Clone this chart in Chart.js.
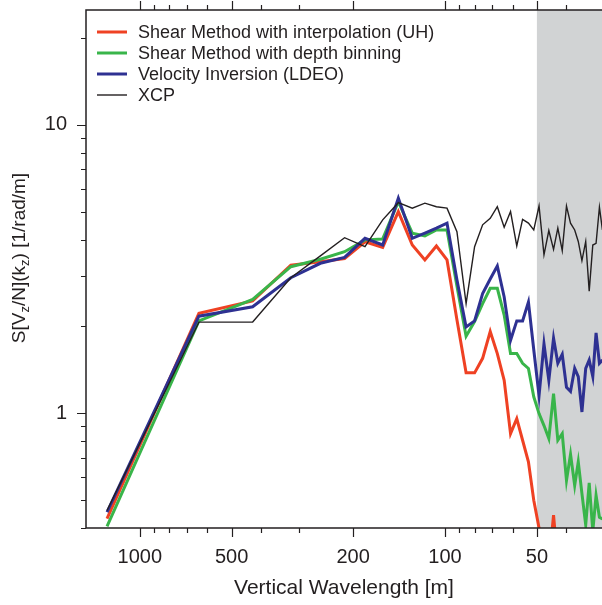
<!DOCTYPE html>
<html>
<head>
<meta charset="utf-8">
<script src="https://cdn.jsdelivr.net/npm/chart.js@4.4.1/dist/chart.umd.min.js"></script>
<style>
  html, body { margin: 0; padding: 0; background: #fff; }
  #chart { display: block; }
</style>
</head>
<body>
<canvas id="chart" width="602" height="605"></canvas>
<script>
// vertical wavelength of each spectral estimate [m]
const wavelengths = [1280, 640, 426.7, 320, 256, 213.3, 182.9, 160, 142.2, 128, 116.4, 106.7, 98.5, 91.4,
  85.3, 80, 75.3, 71.1, 67.4, 64, 61, 58.2, 55.7, 53.3, 51.2, 49.2, 47.4, 45.7, 44.1, 42.7, 41.3, 40,
  38.8, 37.6, 36.6, 35.6, 34.6, 33.7, 32.8, 32, 31.2, 30.5];

const shearInterp = [0.431, 2.22, 2.45, 3.26, 3.35, 3.44, 3.93, 3.76, 5.0, 3.83, 3.40, 3.80, 3.40, 2.11,
  1.38, 1.38, 1.55, 1.92, 1.61, 1.30, 0.85, 0.958, 0.806, 0.678, 0.499, 0.40, 0.33, 0.30, 0.443, 0.30,
  0.28, 0.25, 0.30, 0.27, 0.22, 0.26, 0.24, 0.20, 0.23, 0.21, 0.25, 0.22];

const shearBinned = [0.405, 2.09, 2.48, 3.22, 3.42, 3.63, 3.99, 4.02, 5.41, 4.21, 4.12, 4.32, 4.32, 2.76,
  1.85, 2.08, 2.40, 2.71, 2.71, 2.19, 1.61, 1.61, 1.49, 1.43, 1.14, 0.997, 0.906, 0.817, 1.17, 0.806,
  0.85, 0.585, 0.721, 0.562, 0.678, 0.526, 0.41, 0.573, 0.39, 0.519, 0.436, 0.43];

const velInversion = [0.454, 2.17, 2.34, 2.95, 3.31, 3.47, 4.04, 3.83, 5.57, 4.04, 4.21, 4.38, 4.56, 2.90,
  1.99, 2.09, 2.60, 2.92, 3.24, 2.53, 1.79, 2.09, 2.09, 2.43, 1.66, 1.15, 1.74, 1.30, 1.82, 1.49,
  1.60, 1.23, 1.19, 1.43, 1.34, 1.01, 1.43, 1.53, 1.34, 1.90, 1.49, 1.53];

const xcp = [0.46, 2.07, 2.07, 2.95, 3.51, 4.06, 3.78, 4.68, 5.37, 5.14, 5.35, 5.2, 5.14, 4.26,
  2.40, 3.78, 4.50, 4.74, 5.2, 4.41, 5.0, 3.80, 4.70, 4.56, 4.32, 5.23, 3.54, 4.30, 3.70, 4.38,
  3.66, 5.23, 4.56, 4.32, 3.94, 3.38, 3.94, 2.65, 3.83, 3.88, 5.18, 4.32];

const seriesLabels = ['Shear Method with interpolation (UH)', 'Shear Method with depth binning',
  'Velocity Inversion (LDEO)', 'XCP'];

const xMajorTicks = [1000, 500, 200, 100, 50];
const xMinorTicks = [900, 800, 700, 600, 400, 300, 90, 80, 70, 60, 40, 30];
const yMajorTicks = [1, 10];
const yMinorTicks = [0.4, 0.5, 0.6, 0.7, 0.8, 0.9, 2, 3, 4, 5, 6, 7, 8, 9, 20];
const shadeFrom = 50;

const INK = '#231f20';
const FONT = "'Liberation Sans', Arial, Helvetica, sans-serif";

const pts = ys => wavelengths.map((w, i) => ({ x: w, y: ys[i] }));

// grey band, frame, tick marks, legend, y title
const decor = {
  id: 'decor',
  beforeDatasetsDraw(chart) {
    const { ctx, chartArea: a, scales: { x } } = chart;
    const xs = x.getPixelForValue(shadeFrom);
    ctx.save();
    ctx.fillStyle = '#d1d3d4';
    ctx.fillRect(xs, a.top, a.right - xs, a.bottom - a.top);
    ctx.restore();
  },
  afterDraw(chart) {
    const { ctx, chartArea: a, scales: { x, y } } = chart;
    ctx.save();
    ctx.strokeStyle = INK;
    ctx.lineWidth = 1.5;
    ctx.beginPath();
    ctx.moveTo(a.right, a.top); ctx.lineTo(a.left, a.top);
    ctx.lineTo(a.left, a.bottom); ctx.lineTo(a.right, a.bottom);
    ctx.stroke();

    ctx.lineWidth = 1.2;
    ctx.beginPath();
    const xt = (v, len) => {
      const px = Math.round(x.getPixelForValue(v)) + 0.5;
      ctx.moveTo(px, a.bottom); ctx.lineTo(px, a.bottom + len);
      ctx.moveTo(px, a.top); ctx.lineTo(px, a.top - len);
    };
    const yt = (v, len) => {
      const py = Math.round(y.getPixelForValue(v)) + 0.5;
      ctx.moveTo(a.left, py); ctx.lineTo(a.left - len, py);
    };
    xMajorTicks.forEach(v => xt(v, 9));
    xMinorTicks.forEach(v => xt(v, 5));
    yMajorTicks.forEach(v => yt(v, 9));
    yMinorTicks.forEach(v => yt(v, 5));
    ctx.stroke();

    // legend
    ctx.font = '18px ' + FONT;
    ctx.textBaseline = 'middle';
    chart.data.datasets.forEach((ds, i) => {
      const ly = a.top + 22 + i * 21;
      ctx.strokeStyle = ds.borderColor;
      ctx.lineWidth = ds.borderWidth;
      ctx.beginPath();
      ctx.moveTo(a.left + 11, ly); ctx.lineTo(a.left + 41, ly);
      ctx.stroke();
      ctx.fillStyle = INK;
      ctx.fillText(ds.label, a.left + 52, ly + 1);
    });

    // y axis title with subscripts
    const parts = [['S[V', 0], ['z', 1], ['/N](k', 0], ['z', 1], [') [1/rad/m]', 0]];
    const big = '19px ' + FONT, small = '13px ' + FONT;
    let total = 0;
    parts.forEach(p => { ctx.font = p[1] ? small : big; total += ctx.measureText(p[0]).width; });
    ctx.translate(18, 258);
    ctx.rotate(-Math.PI / 2);
    ctx.fillStyle = INK;
    ctx.textBaseline = 'alphabetic';
    let cx = -total / 2;
    parts.forEach(p => {
      ctx.font = p[1] ? small : big;
      ctx.fillText(p[0], cx, p[1] ? 11 : 7);
      cx += ctx.measureText(p[0]).width;
    });
    ctx.restore();
  }
};

const line = (label, data, color, width, order) => ({
  label, data: pts(data), borderColor: color, borderWidth: width, order,
  pointRadius: 0, tension: 0, fill: false, clip: 0
});

new Chart(document.getElementById('chart'), {
  type: 'line',
  data: {
    datasets: [
      line(seriesLabels[0], shearInterp, '#ef4123', 3, 3),
      line(seriesLabels[1], shearBinned, '#39b54a', 3, 2),
      line(seriesLabels[2], velInversion, '#2e3192', 3, 1),
      line(seriesLabels[3], xcp, INK, 1.4, 0)
    ]
  },
  options: {
    responsive: false,
    animation: false,
    layout: { padding: { top: 10, right: 0, bottom: 0, left: 0 } },
    plugins: { legend: { display: false }, tooltip: { enabled: false } },
    scales: {
      x: {
        type: 'logarithmic', reverse: true, min: 30.6, max: 1500,
        afterBuildTicks: s => { s.ticks = xMajorTicks.map(v => ({ value: v })); },
        afterFit: s => { s.height = 77; s.paddingLeft = 0; s.paddingRight = 0; },
        grid: { display: false, drawTicks: false },
        border: { display: false },
        ticks: { autoSkip: false, maxRotation: 0, padding: 17, color: INK,
          font: { family: FONT, size: 20 }, callback: v => String(v) },
        title: { display: true, text: 'Vertical Wavelength [m]', color: INK,
          font: { family: FONT, size: 21 }, padding: { top: 0, bottom: 4 } }
      },
      y: {
        type: 'logarithmic', min: 0.4, max: 25,
        afterBuildTicks: s => { s.ticks = yMajorTicks.map(v => ({ value: v })); },
        afterFit: s => { s.width = 86; s.paddingTop = 0; s.paddingBottom = 0; },
        grid: { display: false, drawTicks: false },
        border: { display: false },
        ticks: { autoSkip: false, padding: 19, color: INK,
          font: { family: FONT, size: 20 }, callback: v => String(v) }
      }
    }
  },
  plugins: [decor]
});
</script>
</body>
</html>
